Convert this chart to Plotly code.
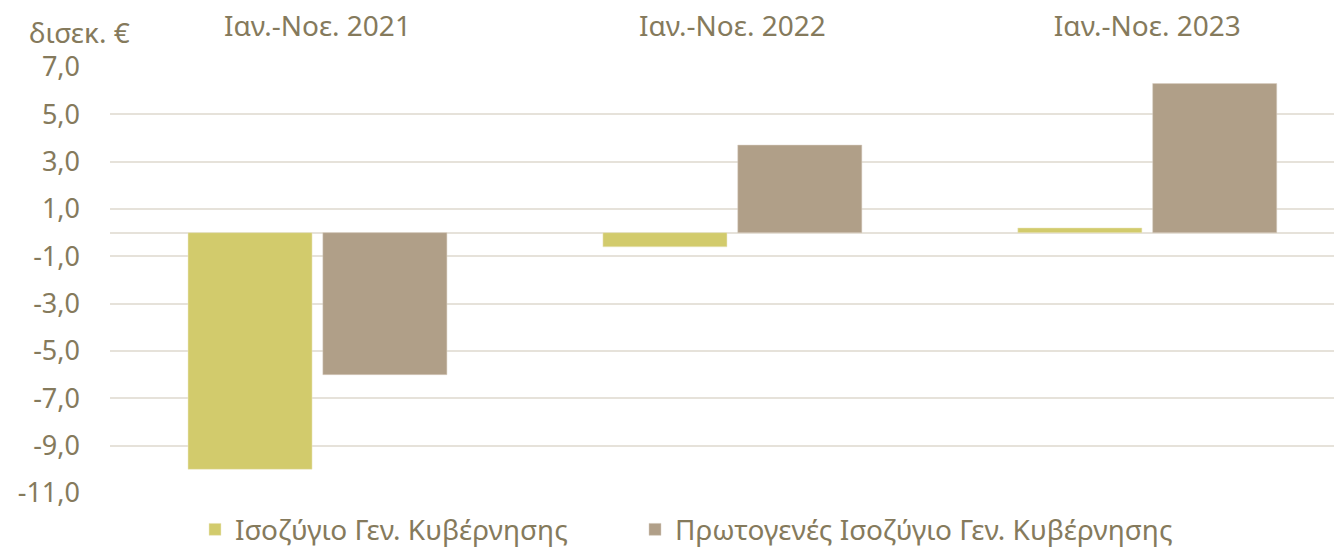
import plotly.graph_objects as go

# data
periods = ["Ιαν.-Νοε. 2021", "Ιαν.-Νοε. 2022", "Ιαν.-Νοε. 2023"]
balance = [-10.0, -0.6, 0.2]          # Ισοζύγιο Γεν. Κυβέρνησης
primary_balance = [-6.0, 3.7, 6.3]    # Πρωτογενές Ισοζύγιο Γεν. Κυβέρνησης
y_ticks = [7, 5, 3, 1, -1, -3, -5, -7, -9, -11]
y_labels = ["7,0", "5,0", "3,0", "1,0", "-1,0", "-3,0", "-5,0", "-7,0", "-9,0", "-11,0"]

txt = "#857A5C"
grid = "#E6E2DA"
font = "Noto Sans"

fig = go.Figure()
fig.add_trace(go.Bar(x=periods, y=balance, name="Ισοζύγιο Γεν. Κυβέρνησης", legend="legend",
                     marker=dict(color="#D2CB6C", line=dict(color="#ECE8C8", width=0.5))))
fig.add_trace(go.Bar(x=periods, y=primary_balance, name="Πρωτογενές Ισοζύγιο Γεν. Κυβέρνησης",
                     legend="legend2",
                     marker=dict(color="#B09F88", line=dict(color="#D8CFC2", width=0.5))))

# one legend per series so the gap between the two entries can match the original
leg = dict(orientation="h", xref="container", yref="container", xanchor="left",
           y=0.037, yanchor="middle", font=dict(size=28, color=txt), itemwidth=30)

fig.update_layout(
    width=1334, height=550,
    margin=dict(l=110, r=0, t=67, b=57),
    plot_bgcolor="white", paper_bgcolor="white",
    barmode="group", bargap=0.35, bargroupgap=0.08,
    font=dict(family=font, color=txt, size=20),
    showlegend=True,
    legend=dict(leg, x=195 / 1334),
    legend2=dict(leg, x=635 / 1334),
    xaxis=dict(side="top", range=[-0.5, 2.45], showgrid=False, showline=False, automargin=False,
               ticks="", ticklabelstandoff=24, tickfont=dict(size=28, color=txt)),
    yaxis=dict(range=[-11, 7], tickvals=y_ticks, ticktext=y_labels, automargin=False,
               showgrid=True, gridcolor=grid, gridwidth=2,
               zeroline=True, zerolinecolor=grid, zerolinewidth=2,
               ticks="", ticklabelstandoff=29, tickfont=dict(size=27, color=txt)),
    annotations=[dict(text="δισεκ. €", xref="paper", yref="paper", x=-0.068, y=1.0,
                      xanchor="left", yanchor="bottom", yshift=14, showarrow=False,
                      font=dict(size=28, color=txt))],
)

# drop the page's default body margin so the figure sits at the window's corner
fig.write_html("out.html", config={"displayModeBar": False},
               post_script="document.body.style.margin='0';")
